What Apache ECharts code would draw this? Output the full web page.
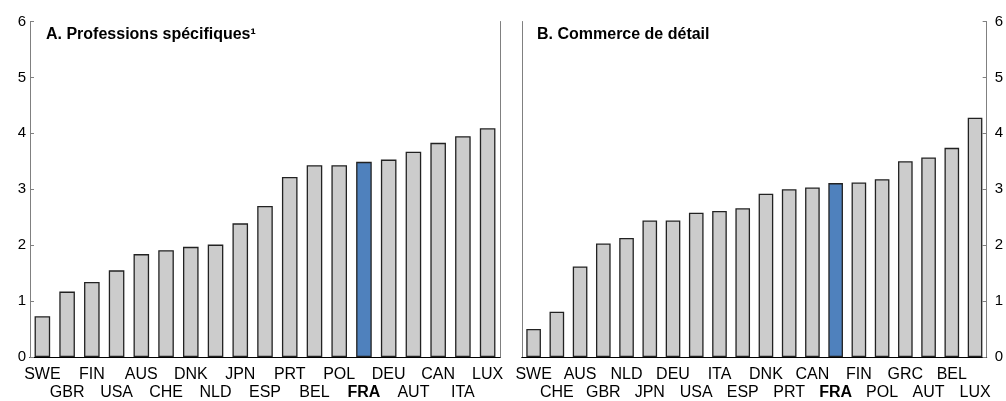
<!DOCTYPE html>
<html>
<head>
<meta charset="utf-8">
<script src="https://cdn.jsdelivr.net/npm/echarts@6/dist/echarts.min.js"></script>
<style>
  html, body { margin: 0; padding: 0; background: #fff; }
  #chart { width: 1006px; height: 401px; }
</style>
</head>
<body>
<div id="chart"></div>
<script>
// Panel A: professions spécifiques
const catsA = ['SWE', 'GBR', 'FIN', 'USA', 'AUS', 'CHE', 'DNK', 'NLD', 'JPN', 'ESP',
  'PRT', 'BEL', 'POL', 'FRA', 'DEU', 'AUT', 'CAN', 'ITA', 'LUX']
const valsA = [0.73, 1.17, 1.34, 1.55, 1.84, 1.91, 1.97, 2.01, 2.39, 2.70,
  3.22, 3.43, 3.43, 3.49, 3.53, 3.67, 3.83, 3.95, 4.09]

// Panel B: commerce de détail
const catsB = ['SWE', 'CHE', 'AUS', 'GBR', 'NLD', 'JPN', 'DEU', 'USA', 'ITA', 'ESP',
  'DNK', 'PRT', 'CAN', 'FRA', 'FIN', 'POL', 'GRC', 'AUT', 'BEL', 'LUX']
const valsB = [0.50, 0.81, 1.62, 2.03, 2.13, 2.44, 2.44, 2.58, 2.61, 2.66,
  2.92, 3.00, 3.03, 3.11, 3.12, 3.18, 3.50, 3.57, 3.74, 4.28]

const yTicks = [0, 1, 2, 3, 4, 5, 6]

const FONT = 'Liberation Sans, Arial, sans-serif'
const GREY = '#cccccc'
const BLUE = '#4f81bd'
const AXIS_GREY = '#808080'

const chart = echarts.init(document.getElementById('chart'))

const toData = (cats, vals) => vals.map((v, i) => ({
  value: v,
  itemStyle: { color: cats[i] === 'FRA' ? BLUE : GREY },
}))

const catLabel = {
  interval: 0,
  margin: 9,
  color: '#000',
  fontFamily: FONT,
  fontSize: 16,
  lineHeight: 17.5,
  formatter: function (value, index) {
    const t = value === 'FRA' ? '{b|FRA}' : value
    return index % 2 ? '\n' + t : t
  },
  rich: {
    b: { fontWeight: 'bold', fontFamily: FONT, fontSize: 16, lineHeight: 17.5, color: '#000' },
  },
}

const bottomAxis = (grid, cats) => ({
  type: 'category',
  gridIndex: grid,
  data: cats,
  position: 'bottom',
  axisLine: { lineStyle: { color: '#000', width: 1 } },
  axisTick: { show: false },
  axisLabel: catLabel,
})

const topAxis = (grid, cats) => ({
  type: 'category',
  gridIndex: grid,
  data: cats,
  position: 'top',
  axisLine: { lineStyle: { color: '#000', width: 1 } },
  axisTick: { show: false },
  axisLabel: { show: false },
})

const valAxis = (grid, pos, labels, ticks, margin) => ({
  type: 'value',
  gridIndex: grid,
  position: pos,
  min: yTicks[0],
  max: yTicks[yTicks.length - 1],
  interval: 1,
  splitLine: { show: false },
  axisLine: { show: true, lineStyle: { color: AXIS_GREY, width: 1 } },
  axisTick: { show: ticks, inside: true, length: 4, lineStyle: { color: AXIS_GREY } },
  axisLabel: { show: labels, color: '#000', fontFamily: FONT, fontSize: 15, margin: margin },
})

const barStyle = { borderColor: '#222', borderWidth: 1.3 }

const titleStyle = { fontFamily: FONT, fontSize: 16, fontWeight: 'bold', color: '#000' }

chart.setOption({
  animation: false,
  backgroundColor: '#fff',
  title: [
    { text: 'A. Professions spécifiques¹', left: 41, top: 22, textStyle: titleStyle },
    { text: 'B. Commerce de détail', left: 532, top: 22, textStyle: titleStyle },
  ],
  grid: [
    { left: 30, right: 506, top: 21.5, bottom: 43 },
    { left: 522, right: 13, top: 21.5, bottom: 43 },
  ],
  xAxis: [
    bottomAxis(0, catsA),
    topAxis(0, catsA),
    bottomAxis(1, catsB),
    topAxis(1, catsB),
  ],
  yAxis: [
    valAxis(0, 'left', true, true, 4),
    valAxis(0, 'right', false, false, 0),
    valAxis(1, 'left', false, false, 0),
    valAxis(1, 'right', true, true, 8),
  ],
  series: [
    {
      type: 'bar',
      xAxisIndex: 0,
      yAxisIndex: 0,
      barWidth: '63%',
      itemStyle: barStyle,
      data: toData(catsA, valsA),
    },
    {
      type: 'bar',
      xAxisIndex: 2,
      yAxisIndex: 3,
      barWidth: '63%',
      itemStyle: barStyle,
      data: toData(catsB, valsB),
    },
  ],
})
</script>
</body>
</html>
